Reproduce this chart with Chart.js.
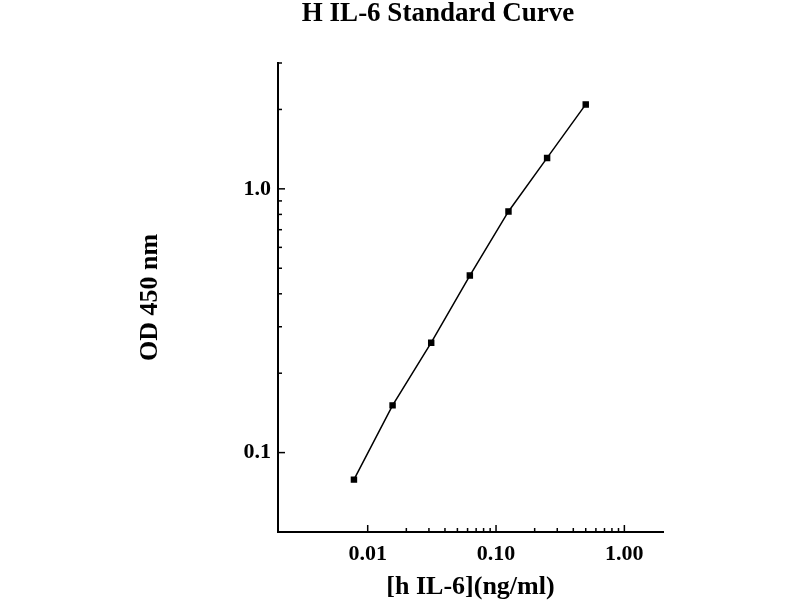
<!DOCTYPE html>
<html>
<head>
<meta charset="utf-8">
<script src="https://cdn.jsdelivr.net/npm/chart.js@4"></script>
<style>
  html, body { margin: 0; padding: 0; background: #fff; }
  #wrap { position: absolute; left: 76px; top: 0; width: 724px; height: 600px; }
</style>
</head>
<body>
<div id="wrap"><canvas id="curveChart" width="724" height="600"></canvas></div>
<script>
// standard concentrations (ng/ml) and measured OD 450
var concentrations = [0.0078125, 0.015625, 0.03125, 0.0625, 0.125, 0.25, 0.5];
var odValues = [0.079, 0.151, 0.261, 0.469, 0.821, 1.31, 2.09];

var xTickValues = [0.01, 0.1, 1];
var xTickLabels = ['0.01', '0.10', '1.00'];
var xMinorTicks = [0.02, 0.03, 0.04, 0.05, 0.06, 0.07, 0.08, 0.09,
                   0.2, 0.3, 0.4, 0.5, 0.6, 0.7, 0.8, 0.9];
var yTickValues = [0.1, 1];
var yTickLabels = ['0.1', '1.0'];
var yMinorTicks = [0.2, 0.3, 0.4, 0.5, 0.6, 0.7, 0.8, 0.9, 2, 3];

var serif = '"Liberation Serif", "Times New Roman", serif';

// tick marks point inward in the original, so draw them here
var innerTicks = {
  id: 'innerTicks',
  afterDraw: function(chart) {
    var c = chart.ctx, a = chart.chartArea;
    var xs = chart.scales.x, ys = chart.scales.y;
    c.save();
    c.strokeStyle = '#000';
    c.lineWidth = 1.5;
    function xt(v, len) {
      var px = xs.getPixelForValue(v);
      c.beginPath(); c.moveTo(px, a.bottom); c.lineTo(px, a.bottom - len); c.stroke();
    }
    function yt(v, len) {
      var py = ys.getPixelForValue(v);
      c.beginPath(); c.moveTo(a.left, py); c.lineTo(a.left + len, py); c.stroke();
    }
    xTickValues.forEach(function(v) { xt(v, 7); });
    xMinorTicks.forEach(function(v) { xt(v, 4); });
    yTickValues.forEach(function(v) { yt(v, 7); });
    yMinorTicks.forEach(function(v) { yt(v, 4); });
    c.restore();
  }
};

var ctx = document.getElementById('curveChart').getContext('2d');
var curveChart = new Chart(ctx, {
  type: 'scatter',
  data: {
    datasets: [{
      label: 'H IL-6',
      data: concentrations.map(function(c, i) { return {x: c, y: odValues[i]}; }),
      showLine: true,
      borderColor: '#000',
      backgroundColor: '#000',
      borderWidth: 1.5,
      pointStyle: 'rect',
      pointRadius: 3.5,
      tension: 0
    }]
  },
  options: {
    responsive: false,
    animation: false,
    layout: { padding: 0 },
    plugins: {
      legend: { display: false },
      tooltip: { enabled: false },
      title: {
        display: true,
        text: 'H IL-6 Standard Curve',
        color: '#000',
        font: { family: serif, size: 27, weight: 'bold', lineHeight: 1 },
        padding: { top: 1, bottom: 35 }
      }
    },
    scales: {
      x: {
        type: 'logarithmic',
        min: 0.002,
        max: 2,
        afterBuildTicks: function(scale) {
          scale.ticks = xTickValues.map(function(v) { return {value: v}; });
        },
        afterFit: function(scale) {
          scale.height = 68;
          // empty space right of the plot, title stays centred on the page
          scale.paddingRight = 137;
        },
        grid: { display: false, drawTicks: false },
        border: { display: true, color: '#000', width: 2 },
        ticks: {
          color: '#000',
          padding: 9,
          maxRotation: 0,
          autoSkip: false,
          font: { family: serif, size: 22, weight: 'bold' },
          callback: function(value, index) { return xTickLabels[index]; }
        },
        title: {
          display: true,
          text: '[h IL-6](ng/ml)',
          color: '#000',
          padding: { top: 0, bottom: 0 },
          font: { family: serif, size: 26, weight: 'bold', lineHeight: 1 }
        }
      },
      y: {
        type: 'logarithmic',
        min: 0.05,
        max: 3,
        afterBuildTicks: function(scale) {
          scale.ticks = yTickValues.map(function(v) { return {value: v}; });
        },
        afterFit: function(scale) { scale.width = 202; },
        grid: { display: false, drawTicks: false },
        border: { display: true, color: '#000', width: 2 },
        ticks: {
          color: '#000',
          padding: 7,
          autoSkip: false,
          font: { family: serif, size: 22, weight: 'bold' },
          callback: function(value, index) { return yTickLabels[index]; }
        },
        title: {
          display: true,
          text: 'OD 450 nm',
          color: '#000',
          padding: { top: 61, bottom: 0 },
          font: { family: serif, size: 26, weight: 'bold', lineHeight: 1 }
        }
      }
    }
  },
  plugins: [innerTicks]
});
</script>
</body>
</html>
